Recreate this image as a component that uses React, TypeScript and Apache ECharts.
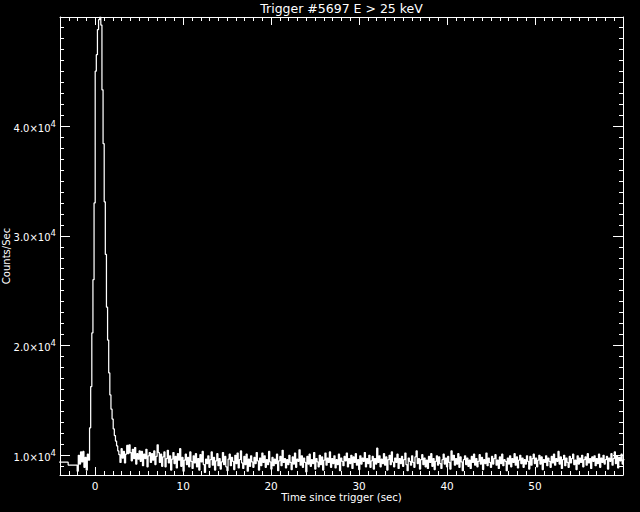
import { useEffect, useRef } from "react";
import * as echarts from "echarts";

// Time axis (seconds since trigger)
const X_MIN = -4;
const X_MAX = 60;
const X_MAJOR_TICKS = [0, 10, 20, 30, 40, 50];
const X_MINOR_TICKS = [-3, -2, -1, 1, 2, 3, 4, 5, 6, 7, 8, 9, 11, 12, 13, 14, 15, 16, 17, 18, 19, 21, 22, 23, 24, 25, 26, 27, 28, 29, 31, 32, 33, 34, 35, 36, 37, 38, 39, 41, 42, 43, 44, 45, 46, 47, 48, 49, 51, 52, 53, 54, 55, 56, 57, 58, 59];

// Counts axis
const Y_MIN = 8204;
const Y_MAX = 49940;
const Y_MAJOR_TICKS = [10000, 20000, 30000, 40000];
const Y_MINOR_TICKS = [9000, 11000, 12000, 13000, 14000, 15000, 16000, 17000, 18000, 19000, 21000, 22000, 23000, 24000, 25000, 26000, 27000, 28000, 29000, 31000, 32000, 33000, 34000, 35000, 36000, 37000, 38000, 39000, 41000, 42000, 43000, 44000, 45000, 46000, 47000, 48000, 49000];

// Pre-burst coarse bins (1.024 s)
const COARSE_START = [-4.096, -3.072];
const COARSE_COUNTS = [9370, 9110];

// Fine bins start here
const FINE_START = -2.048;
const FINE_WIDTH = 0.128;

// -2.048 .. -0.768
const PRE_BURST = [8550, 10000, 9200, 10300, 9400, 10350, 8900, 9800, 8650, 10100, 9550];

// -0.640 .. 2.432
const BURST = [
  12500, 16260, 21150, 26000, 33000, 45000, 46500, 48800, 49700, 49940,
  49200, 43300, 38400, 33100, 28300, 23500, 20500, 17500, 15500, 14200,
  13300, 12400, 11800, 11300, 10850,
];

// 2.560 .. 60.032
const BACKGROUND = [
  10400, 10050, 9350, 10600, 9750, 10350, 9300, 10100, 10900, 10150,
  10950, 10250, 9500, 10550, 9700, 10700, 9200, 10150, 9650, 10400,
  9450, 10350, 9050, 10100, 9700, 10550, 8950, 9950, 10250, 9350,
  10150, 9550, 10400, 9150, 9900, 10950, 10250, 9350, 10100, 9000,
  9850, 10300, 8950, 9700, 10450, 9300, 9950, 8650, 9650, 10250,
  9250, 9900, 8850, 10150, 9550, 10600, 9000, 9800, 8550, 9550,
  10100, 9150, 9800, 8950, 10300, 9450, 8800, 9950, 9300, 10150,
  8950, 9700, 8650, 10050, 9400, 10350, 9150, 8450, 9650, 9250,
  9950, 8900, 9600, 10300, 9100, 9800, 8650, 9500, 10150, 9050,
  9700, 8750, 9400, 10250, 9150, 9900, 8950, 8600, 9650, 10100,
  9050, 9800, 9450, 8700, 10000, 9250, 10200, 8850, 9600, 10400,
  9300, 8800, 9900, 9150, 10100, 8550, 9650, 9000, 9950, 9400,
  8900, 9800, 9250, 10250, 9500, 8650, 9750, 9050, 10200, 9350,
  9950, 8900, 9600, 9150, 10350, 9400, 8750, 9800, 9050, 9650,
  9250, 10100, 8600, 9500, 9900, 9050, 10450, 9350, 9700, 8850,
  9600, 9150, 10000, 9350, 8700, 9850, 9200, 10200, 8900, 9650,
  9450, 10500, 9100, 9950, 8900, 9750, 9350, 8500, 9900, 9200,
  10100, 9000, 9600, 9250, 10250, 8750, 9700, 9400, 8950, 10000,
  9150, 9850, 8650, 9550, 10200, 9100, 9750, 9350, 10300, 8900,
  9700, 9250, 9950, 8850, 9600, 9150, 10100, 8600, 9750, 9450,
  9050, 9900, 9500, 10200, 8950, 9700, 9250, 10000, 8800, 9850,
  9350, 10150, 9100, 9600, 8700, 9950, 9200, 9750, 9450, 10250,
  8950, 9700, 9250, 10000, 8900, 9500, 9900, 8750, 9700, 9200,
  10650, 9350, 9950, 8950, 9650, 9250, 10150, 9100, 9850, 8650,
  9600, 10000, 9150, 10300, 9400, 8950, 9750, 9350, 10100, 8800,
  9700, 9250, 9900, 9000, 9600, 10200, 9150, 8600, 9750, 9450,
  9100, 9950, 9350, 8900, 9850, 10400, 9250, 9700, 8750, 9600,
  10050, 9150, 9750, 8950, 9550, 8800, 9900, 9350, 10150, 9000,
  9700, 8700, 9450, 9950, 9100, 9850, 9250, 8800, 9600, 10100,
  9200, 9750, 8950, 9900, 9350, 8750, 10400, 9550, 10000, 9100,
  9700, 9200, 10150, 8900, 9850, 9400, 8600, 9600, 9950, 9150,
  9750, 9000, 9550, 8800, 9900, 9350, 10100, 9100, 9700, 8950,
  9450, 10050, 9200, 9800, 8700, 9600, 9250, 10200, 9050, 9750,
  9350, 8900, 9900, 9200, 9700, 10050, 9100, 9550, 8800, 9850,
  9250, 10100, 9050, 9600, 9450, 8600, 9750, 9200, 9950, 8950,
  9700, 9350, 10150, 9100, 9850, 8850, 9550, 10000, 9250, 9750,
  8900, 9600, 9200, 9950, 9450, 8750, 9900, 9100, 9700, 10100,
  9250, 9750, 8950, 9550, 10000, 9200, 9850, 8700, 9600, 9350,
  9950, 9050, 9750, 9450, 8900, 9900, 9300, 10100, 9100, 9700,
  9450, 10350, 9200, 9850, 8800, 9600, 10000, 9050, 9750, 9350,
  8900, 9900, 9300, 9700, 10100, 9150, 9550, 8700, 9950, 9200,
  9750, 9350, 10000, 8950, 9600, 9850, 9100, 10150, 9300, 9700,
  8800, 9850, 9450, 9950, 9050, 9700, 9250, 10100, 8900, 9750,
  9350, 10000, 9200, 9600, 9900, 8750, 9750, 9450, 10150, 9100,
  9700, 10300, 9250, 9950, 8850, 9800, 9500, 10100, 9200, 9600,
];

const TITLE = "Trigger #5697 E > 25 keV";
const X_TITLE = "Time since trigger (sec)";
const Y_TITLE = "Counts/Sec";

const FONT = "DejaVu Sans";
const WHITE = "#ffffff";

function buildSeries(): [number, number][] {
  const pts: [number, number][] = [];
  COARSE_START.forEach((t, i) => pts.push([t, COARSE_COUNTS[i]]));
  const fine = [...PRE_BURST, ...BURST, ...BACKGROUND];
  fine.forEach((c, i) => pts.push([FINE_START + i * FINE_WIDTH, c]));
  // close the last bin at its end edge
  pts.push([FINE_START + fine.length * FINE_WIDTH, fine[fine.length - 1]]);
  return pts;
}

export default function App() {
  const ref = useRef<HTMLDivElement>(null);
  useEffect(() => {
    const chart = echarts.init(ref.current!, null, { renderer: "svg" });
    const gridLeft = 60;
    const gridTop = 17;
    const gridWidth = 563;
    const gridHeight = 458;

    const baseX = (position: "top" | "bottom", values: number[], len: number, labels: boolean, line: boolean) => ({
      type: "value",
      position,
      min: X_MIN,
      max: X_MAX,
      axisLine: { show: line, onZero: false, lineStyle: { color: WHITE, width: 1 } },
      axisTick: { show: true, inside: true, length: len, customValues: values, lineStyle: { color: WHITE, width: 1 } },
      axisLabel: {
        show: labels,
        customValues: values,
        color: WHITE,
        fontFamily: FONT,
        fontSize: 10.5,
        margin: 5,
      },
      splitLine: { show: false },
    });
    const baseY = (position: "left" | "right", values: number[], len: number, labels: boolean, line: boolean) => ({
      type: "value",
      position,
      min: Y_MIN,
      max: Y_MAX,
      axisLine: { show: line, onZero: false, lineStyle: { color: WHITE, width: 1 } },
      axisTick: { show: true, inside: true, length: len, customValues: values, lineStyle: { color: WHITE, width: 1 } },
      axisLabel: {
        show: labels,
        customValues: values,
        margin: 4,
        formatter: (v: number) => `{m|${(v / 10000).toFixed(1)}×10}{e|4}`,
        rich: {
          m: { color: WHITE, fontFamily: FONT, fontSize: 10, lineHeight: 14, verticalAlign: "bottom" },
          e: { color: WHITE, fontFamily: FONT, fontSize: 8.5, lineHeight: 14, verticalAlign: "top" },
        },
      },
      splitLine: { show: false },
    });

    chart.setOption({
      animation: false,
      backgroundColor: "#000000",
      grid: { left: gridLeft, top: gridTop, width: gridWidth, height: gridHeight, containLabel: false },
      xAxis: [
        baseX("bottom", X_MAJOR_TICKS, 8, true, true),
        baseX("bottom", X_MINOR_TICKS, 4, false, false),
        baseX("top", X_MAJOR_TICKS, 8, false, true),
        baseX("top", X_MINOR_TICKS, 4, false, false),
      ],
      yAxis: [
        baseY("left", Y_MAJOR_TICKS, 10, true, true),
        baseY("left", Y_MINOR_TICKS, 4, false, false),
        baseY("right", Y_MAJOR_TICKS, 10, false, true),
        baseY("right", Y_MINOR_TICKS, 4, false, false),
      ],
      series: [
        {
          type: "line",
          xAxisIndex: 0,
          yAxisIndex: 0,
          step: "end",
          data: buildSeries(),
          showSymbol: false,
          symbol: "none",
          clip: true,
          lineStyle: { color: WHITE, width: 1.25 },
          silent: true,
        },
      ],
      graphic: [
        {
          type: "text",
          x: gridLeft + gridWidth / 2,
          y: 8.5,
          style: { text: TITLE, fill: WHITE, fontFamily: FONT, fontSize: 12.5, align: "center", verticalAlign: "middle" },
        },
        {
          type: "text",
          x: gridLeft + gridWidth / 2,
          y: 497.5,
          style: { text: X_TITLE, fill: WHITE, fontFamily: FONT, fontSize: 10.2, align: "center", verticalAlign: "middle" },
        },
        {
          type: "text",
          x: 6,
          y: 256,
          rotation: Math.PI / 2,
          style: { text: Y_TITLE, fill: WHITE, fontFamily: FONT, fontSize: 10, align: "center", verticalAlign: "middle" },
        },
      ],
    });
    return () => chart.dispose();
  }, []);
  return <div ref={ref} style={{ position: "fixed", left: 0, top: 0, width: 640, height: 512 }} />;
}
